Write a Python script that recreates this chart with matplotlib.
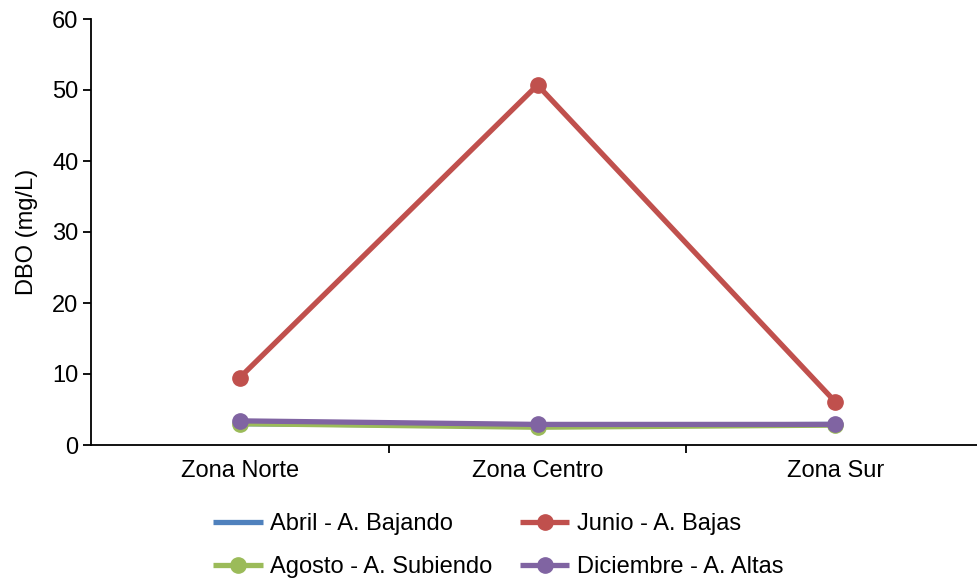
import matplotlib.pyplot as plt

plt.rcParams['font.family'] = ['Liberation Sans', 'DejaVu Sans']

zonas = ["Zona Norte", "Zona Centro", "Zona Sur"]
abril = [3.0, 2.7, 2.9]
junio = [9.5, 50.7, 6.1]
agosto = [3.0, 2.5, 2.8]
diciembre = [3.4, 2.9, 2.9]

series = [
    ("Abril - A. Bajando", abril, '#4F81BD', None),
    ("Junio - A. Bajas", junio, '#C0504D', 'o'),
    ("Agosto - A. Subiendo", agosto, '#9BBB59', 'o'),
    ("Diciembre - A. Altas", diciembre, '#8064A2', 'o'),
]

fig = plt.figure(figsize=(9.77, 5.8), dpi=100)
ax = fig.add_axes([91 / 977, 135 / 580, 893 / 977, 426 / 580])

x = range(len(zonas))
lineas = []
for nombre, vals, color, mk in series:
    l, = ax.plot(x, vals, color=color, lw=3.8, marker=mk, markersize=11, label=nombre,
                 solid_capstyle='butt', clip_on=False)
    lineas.append(l)

ax.set_xlim(-0.5, 2.5)
ax.set_ylim(0, 60)
ax.set_yticks(range(0, 61, 10))
ax.set_xticks([0.5, 1.5], minor=False)
ax.set_xticklabels([])
ax.set_xticks(list(x), minor=True)
ax.set_xticklabels(zonas, minor=True)
ax.tick_params(axis='x', which='minor', length=0, pad=11, labelsize=17)
ax.tick_params(axis='x', which='major', length=6, width=1.3, direction='out')
ax.tick_params(axis='y', length=6, width=1.3, direction='out', labelsize=17, pad=3)
ax.set_ylabel("DBO (mg/L)", fontsize=17, labelpad=10)
for s in ['top', 'right']:
    ax.spines[s].set_visible(False)
for s in ['left', 'bottom']:
    ax.spines[s].set_linewidth(1.3)

# orden por filas como en el original
orden = [0, 2, 1, 3]
ax.legend([lineas[i] for i in orden], [series[i][0] for i in orden],
          loc='upper left', bbox_to_anchor=(213 / 977, 67 / 580), bbox_transform=fig.transFigure,
          ncol=2, frameon=False, fontsize=17, handlelength=2.1, handletextpad=0.33,
          columnspacing=1.15, labelspacing=0.9, borderpad=0, borderaxespad=0)

fig.savefig("out.png", dpi=100)
